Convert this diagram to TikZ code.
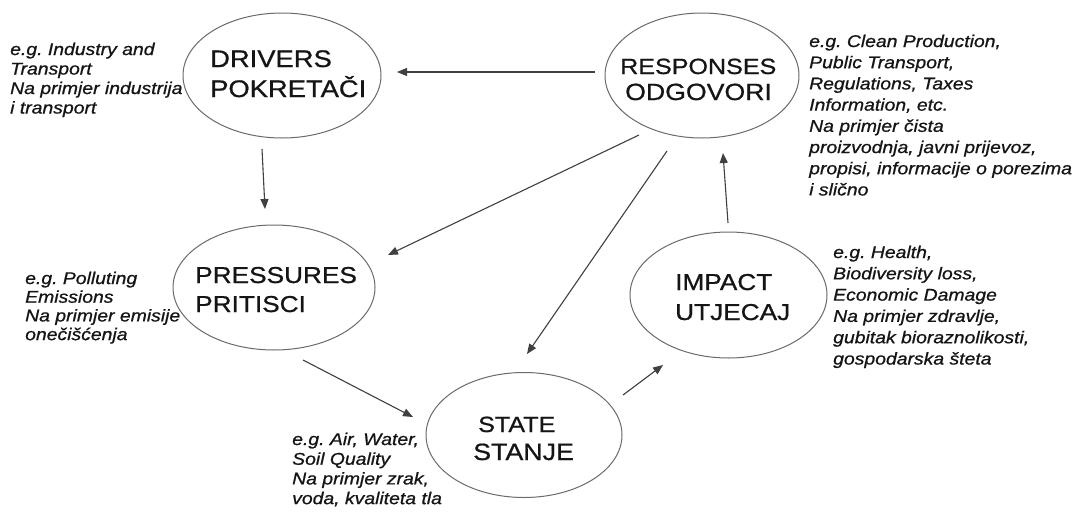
\documentclass[tikz,border=0pt]{standalone}
\usepackage{fontspec}
\setmainfont{Liberation Sans}[FakeStretch=1.14,FakeBold=0.8]
\usetikzlibrary{arrows.meta,shapes.geometric}
\definecolor{ellgray}{HTML}{6A6A6A}
\definecolor{arrgray}{HTML}{404040}
\definecolor{txt}{HTML}{151515}
\frenchspacing
\begin{document}
\begin{tikzpicture}[x=1pt,y=-1pt,
  ell/.style={draw=ellgray, line width=1pt, ellipse, inner sep=0pt},
  arr/.style={draw=arrgray, line width=1.1pt, -{Triangle[length=10pt,width=8pt]}},
  ttl/.style={anchor=base west, inner sep=0pt, text=txt},
  desc/.style={anchor=north west, inner sep=0pt, align=left, text=txt},
]
\useasboundingbox[fill=white] (0,0) rectangle (1074,512);

% ellipses
\node[ell, minimum width=198pt, minimum height=125pt] (drivers) at (282,75.5) {};
\node[ell, minimum width=194pt, minimum height=125pt] (responses) at (702,75.5) {};
\node[ell, minimum width=202pt, minimum height=125pt] (pressures) at (274,287.5) {};
\node[ell, minimum width=197pt, minimum height=126pt] (impact) at (728.5,295) {};
\node[ell, minimum width=196pt, minimum height=125pt] (state) at (524,435) {};

% titles
\node[ttl, font=\fontsize{24}{28}\selectfont] (t-d1) at (210,67) {DRIVERS};
\node[ttl, font=\fontsize{24}{28}\selectfont] (t-d2) at (210,97) {POKRETAČI};
\node[ttl, font=\fontsize{22}{26}\selectfont] (t-r1) at (620,74) {RESPONSES};
\node[ttl, font=\fontsize{23.4}{26}\selectfont] (t-r2) at (625,100) {ODGOVORI};
\node[ttl, font=\fontsize{23}{27}\selectfont] (t-p1) at (195,283) {PRESSURES};
\node[ttl, font=\fontsize{23}{27}\selectfont] (t-p2) at (195,312) {PRITISCI};
\node[ttl, font=\fontsize{23}{27}\selectfont] (t-i1) at (675,290) {IMPACT};
\node[ttl, font=\fontsize{23}{27}\selectfont] (t-i2) at (675,320) {UTJECAJ};
\node[ttl, font=\fontsize{22}{27}\selectfont] (t-s1) at (478,432) {STATE};
\node[ttl, font=\fontsize{23.5}{27}\selectfont] (t-s2) at (473,460) {STANJE};

% descriptions
\node[desc, font=\fontsize{17}{19.5}\selectfont\itshape] (d-d) at (10,42.5)
  {e.g. Industry and\\Transport\\Na primjer industrija\\i transport};
\node[desc, font=\fontsize{17}{21.2}\selectfont\itshape] (d-r) at (809,34.5)
  {e.g. Clean Production,\\Public Transport,\\Regulations, Taxes\\Information, etc.\\Na primjer čista\\proizvodnja, javni prijevoz,\\propisi, informacije o porezima\\i slično};
\node[desc, font=\fontsize{17}{18.7}\selectfont\itshape] (d-p) at (25,271.5)
  {e.g. Polluting\\Emissions\\Na primjer emisije\\onečišćenja};
\node[desc, font=\fontsize{17}{21.3}\selectfont\itshape] (d-i) at (833,245.5)
  {e.g. Health,\\Biodiversity loss,\\Economic Damage\\Na primjer zdravlje,\\gubitak bioraznolikosti,\\gospodarska šteta};
\node[desc, font=\fontsize{17}{19.7}\selectfont\itshape] (d-s) at (292,432.5)
  {e.g. Air, Water,\\Soil Quality\\Na primjer zrak,\\voda, kvaliteta tla};

% connectors
\draw[arr] ([shift={(-107,-3.5)}]responses.center) -- ([shift={(115,-3.5)}]drivers.center);
\draw[arr] ([shift={(-20,73.5)}]drivers.center) -- ([shift={(-9,-78.5)}]pressures.center);
\draw[arr] ([shift={(-63,59.5)}]responses.center) -- ([shift={(114,-32.5)}]pressures.center);
\draw[arr] ([shift={(-35,75.5)}]responses.center) -- ([shift={(3,-81)}]state.center);
\draw[arr] ([shift={(-0.5,-72)}]impact.center) -- ([shift={(21,77.5)}]responses.center);
\draw[arr] ([shift={(29,72.5)}]pressures.center) -- ([shift={(-111,-18)}]state.center);
\draw[arr] ([shift={(99,-40)}]state.center) -- ([shift={(-65.5,70)}]impact.center);
\end{tikzpicture}
\end{document}
